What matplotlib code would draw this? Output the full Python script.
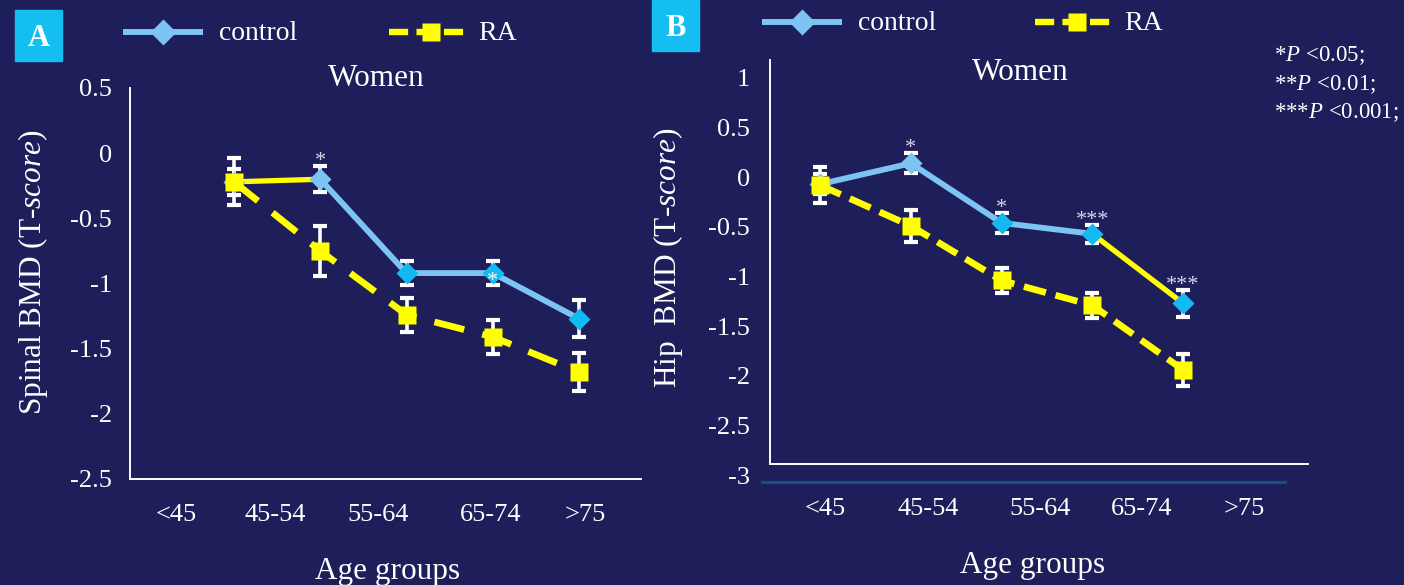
import numpy as np
import matplotlib
matplotlib.use("Agg")
import matplotlib.pyplot as plt
from matplotlib.lines import Line2D
from matplotlib.patches import Rectangle

plt.rcParams['font.family'] = ['Liberation Serif', 'DejaVu Serif']
plt.rcParams['mathtext.fontset'] = 'custom'
plt.rcParams['mathtext.rm'] = 'Liberation Serif'
plt.rcParams['mathtext.it'] = 'Liberation Serif:italic'

# data
age_groups = ['<45', '45-54', '55-64', '65-74', '>75']

spine_ctrl = [-0.22, -0.20, -0.92, -0.92, -1.27]
spine_ctrl_err = [0.10, 0.10, 0.095, 0.095, 0.14]
spine_ra = [-0.22, -0.75, -1.24, -1.41, -1.68]
spine_ra_err = [0.18, 0.19, 0.13, 0.13, 0.145]
spine_sig = ['', '*', '', '*', '']

hip_ctrl = [-0.07, 0.14, -0.46, -0.57, -1.27]
hip_ctrl_err = [0.10, 0.10, 0.10, 0.09, 0.135]
hip_ra = [-0.08, -0.49, -1.04, -1.29, -1.94]
hip_ra_err = [0.18, 0.16, 0.125, 0.125, 0.16]
hip_sig = ['', '*', '*', '***', '***']

p_notes = [r'*$P$ <0.05;', r'**$P$ <0.01;', r'***$P$ <0.001;']

# colours
BG = '#1e1f5a'
BLUE = '#7dc4f5'
CYAN = '#14b9f2'
YELLOW = '#ffff00'
BOXC = '#14bef0'
STAR = '#d6d6e6'

W, H = 1404, 585
fig = plt.figure(figsize=(W / 100, H / 100), dpi=100, facecolor=BG)


def px_axes(left, top, right, bottom):
    return fig.add_axes([left / W, 1 - bottom / H, (right - left) / W, (bottom - top) / H])


def fx(x):
    return x / W


def fy(y):
    return 1 - y / H


def draw_panel(ax, ctrl, ctrl_err, ra, ra_err, sig, yellow_seg, star_on_marker, dash):
    x = np.arange(len(ctrl))
    ax.set_facecolor(BG)
    # error bars under everything
    for vals, errs in [(ctrl, ctrl_err), (ra, ra_err)]:
        ax.errorbar(x, vals, yerr=errs, fmt='none', ecolor='white',
                    elinewidth=2.6, capsize=5, capthick=3, zorder=2)
    # RA dashed line
    ax.plot(x, ra, color=YELLOW, lw=4.8, ls=(0, dash), zorder=3)
    # control line (one segment comes out yellow in the original)
    k = yellow_seg
    ax.plot(x[:k + 1], ctrl[:k + 1], color=BLUE, lw=4.2, zorder=3, solid_capstyle='butt')
    ax.plot(x[k + 1:], ctrl[k + 1:], color=BLUE, lw=4.2, zorder=3, solid_capstyle='butt')
    ax.plot(x[k:k + 2], ctrl[k:k + 2], color=YELLOW, lw=3.8, zorder=3, solid_capstyle='butt')
    # markers
    mcols = [BLUE, BLUE, CYAN, CYAN, CYAN]
    for i in range(len(x)):
        ax.plot(x[i], ctrl[i], marker='D', ms=11, color=mcols[i], mec='none', zorder=4)
    ax.plot(x, ra, ls='none', marker='s', ms=13, color=YELLOW, mec='none', zorder=5)
    # significance stars
    for i, s in enumerate(sig):
        if not s:
            continue
        if i in star_on_marker:
            ax.annotate(s, (x[i], ctrl[i]), xytext=(0, -9), textcoords='offset points',
                        ha='center', va='baseline', fontsize=16, color='white', zorder=6)
        else:
            ax.annotate(s, (x[i], ctrl[i] + ctrl_err[i]), xytext=(0, 0),
                        textcoords='offset points', ha='center', va='baseline',
                        fontsize=16, color=STAR, zorder=6)
    for side in ['top', 'right']:
        ax.spines[side].set_visible(False)
    for side in ['left', 'bottom']:
        ax.spines[side].set_color('white')
        ax.spines[side].set_linewidth(1.4)
    ax.tick_params(colors='white', labelsize=19, length=0)


# ---------------- panel A ----------------
axA = px_axes(129.5, 88, 641, 479)
draw_panel(axA, spine_ctrl, spine_ctrl_err, spine_ra, spine_ra_err, spine_sig,
           yellow_seg=0, star_on_marker={3}, dash=(4.6, 2.8))
axA.set_xlim(-1.212, 4.719)
axA.set_ylim(-2.5, 0.5)
axA.set_yticks(np.arange(-2.5, 0.51, 0.5))
axA.set_yticklabels(['-2.5', '-2', '-1.5', '-1', '-0.5', '0', '0.5'])
axA.set_xticks([-0.672, 0.475, 1.67, 2.97, 4.07])
axA.set_xticklabels(age_groups)
axA.tick_params(axis='x', pad=18)
axA.tick_params(axis='y', pad=12.6)

# ---------------- panel B ----------------
axB = px_axes(770, 60, 1308, 482)
draw_panel(axB, hip_ctrl, hip_ctrl_err, hip_ra, hip_ra_err, hip_sig,
           yellow_seg=3, star_on_marker=set(), dash=(3.4, 1.5))
axB.set_xlim(-0.551, 5.377)
axB.set_ylim(-3.07, 1.181)
axB.set_yticks(np.arange(-3, 1.01, 0.5))
axB.set_yticklabels(['-3', '-2.5', '-2', '-1.5', '-1', '-0.5', '0', '0.5', '1'])
axB.spines['left'].set_bounds(-2.889, 1.181)
axB.spines['bottom'].set_position(('data', -2.889))
axB.axhline(-3.07, xmin=-8 / 538, xmax=515 / 538, color='#1b4f80', lw=2.2, clip_on=False)
axB.set_xticks([0.055, 1.19, 2.424, 3.548, 4.672])
axB.set_xticklabels(age_groups)
axB.tick_params(axis='x', pad=24.5)
axB.tick_params(axis='y', pad=14.4)

# ---------------- texts ----------------
fig.text(fx(376), fy(79), 'Women', color='white', fontsize=22.5, ha='center', va='center')
fig.text(fx(1020), fy(72), 'Women', color='white', fontsize=22.5, ha='center', va='center')
fig.text(fx(388), fy(571), 'Age groups', color='white', fontsize=22.5, ha='center', va='center')
fig.text(fx(1033), fy(565), 'Age groups', color='white', fontsize=22.5, ha='center', va='center')
fig.text(fx(33), fy(272), r'Spinal BMD (T-$score$)', color='white', fontsize=22.5,
         rotation=90, ha='center', va='center')
fig.text(fx(668), fy(258), r'Hip  BMD (T-$score$)', color='white', fontsize=22.5,
         rotation=90, ha='center', va='center')
for j, note in enumerate(p_notes):
    fig.text(fx(1274), fy(56 + 28.5 * j), note, color='white', fontsize=16.5,
             ha='left', va='center')

# panel boxes
for (bx, by, letter) in [(15, 10, 'A'), (652, 0, 'B')]:
    fig.patches.append(Rectangle((fx(bx), fy(by + 51)), 47 / W, 51 / H,
                                 transform=fig.transFigure, color=BOXC, zorder=1))
    fig.text(fx(bx + 23.5), fy(by + 28), letter, color='white', fontsize=22,
             fontweight='bold', ha='center', va='center')


# legends
def legend_row(x_ctrl, x_ra, y):
    fig.add_artist(Line2D([fx(x_ctrl), fx(x_ctrl + 80)], [fy(y), fy(y)], color=BLUE, lw=4.3,
                          transform=fig.transFigure, solid_capstyle='butt'))
    fig.add_artist(Line2D([fx(x_ctrl + 40)], [fy(y)], marker='D', ms=13.5, color=BLUE, mec='none',
                          transform=fig.transFigure))
    fig.text(fx(x_ctrl + 96), fy(y + 1), 'control', color='white', fontsize=20,
             ha='left', va='center')
    fig.add_artist(Line2D([fx(x_ra), fx(x_ra + 80)], [fy(y), fy(y)], color=YELLOW, lw=4.6,
                          ls=(0, (3, 1.3)), transform=fig.transFigure))
    fig.add_artist(Line2D([fx(x_ra + 42)], [fy(y)], marker='s', ms=13.5, color=YELLOW,
                          mec='none', transform=fig.transFigure))
    fig.text(fx(x_ra + 89), fy(y + 1), 'RA', color='white', fontsize=20,
             ha='left', va='center')


legend_row(123, 389, 32)
legend_row(762, 1035, 22)

fig.savefig('out.png', dpi=100, facecolor=BG)
